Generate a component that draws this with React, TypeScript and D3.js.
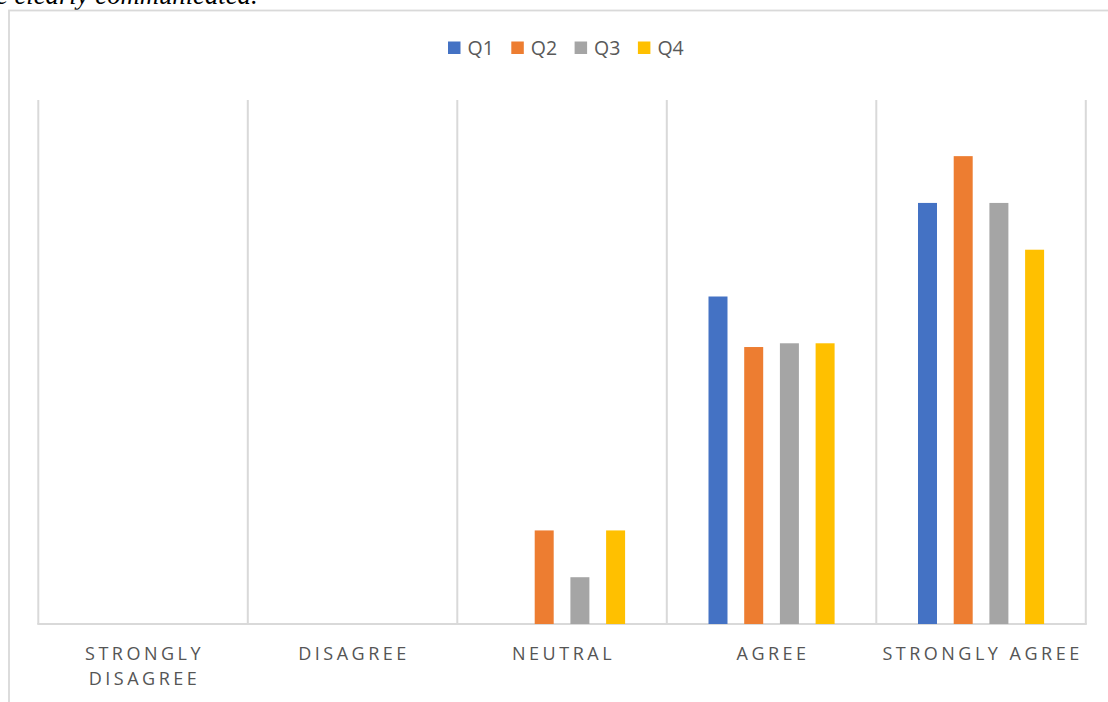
import React from "react";
import * as d3 from "d3";

const categories = ["STRONGLY DISAGREE", "DISAGREE", "NEUTRAL", "AGREE", "STRONGLY AGREE"];
const categoryLines = [["STRONGLY", "DISAGREE"], ["DISAGREE"], ["NEUTRAL"], ["AGREE"], ["STRONGLY AGREE"]];
const seriesNames = ["Q1", "Q2", "Q3", "Q4"];
const seriesColors = ["#4472C4", "#ED7D31", "#A5A5A5", "#FFC000"];
const q1 = [0, 0, 0, 43.75, 56.25];
const q2 = [0, 0, 12.5, 37, 62.5];
const q3 = [0, 0, 6.25, 37.5, 56.25];
const q4 = [0, 0, 12.5, 37.5, 50];
const seriesValues = [q1, q2, q3, q4];
const yMax = 70;

export default function App() {
  const W = 1108, H = 702;
  const left = 38.3, right = 1085.8, top = 100, bottom = 624;
  const x0 = d3.scaleBand<string>().domain(categories).range([left, right]).padding(0);
  const groupW = 126.1;
  const x1 = d3.scaleBand<string>().domain(seriesNames).range([0, groupW]).paddingInner(0.468).paddingOuter(0);
  const y = d3.scaleLinear().domain([0, yMax]).range([bottom, top]);
  const grid = "#d9d9d9";
  const font = "'Open Sans', 'Noto Sans', sans-serif";

  const gridXs = categories.map((c) => x0(c)!).concat([right]);

  return (
    <div style={{ position: "absolute", left: 0, top: 0, width: W, height: H, overflow: "hidden", background: "#fff" }}>
      <svg width={W} height={H} style={{ display: "block" }}>
        <text x={-4} y={4} fontFamily="'Liberation Serif', 'Times New Roman', serif" fontStyle="italic" fontSize={26.7} fill="#000">
          e clearly communicated.
        </text>
        <rect x={9} y={10.5} width={1200} height={800} fill="none" stroke={grid} strokeWidth={1.8} />
        {gridXs.map((gx, i) => (
          <line key={i} x1={gx} x2={gx} y1={top} y2={bottom} stroke={grid} strokeWidth={2} />
        ))}
        <line x1={left - 1} x2={right + 1} y1={bottom} y2={bottom} stroke={grid} strokeWidth={2} />
        {seriesNames.map((s, si) => (
          <g key={s}>
            {categories.map((c, ci) => {
              const v = seriesValues[si][ci];
              if (v <= 0) return null;
              const bx = x0(c)! + (x0.bandwidth() - groupW) / 2 + x1(s)!;
              return <rect key={c} x={bx} y={y(v)} width={x1.bandwidth()} height={bottom - y(v)} fill={seriesColors[si]} />;
            })}
          </g>
        ))}
        {categories.map((c, ci) => (
          <text key={c} textAnchor="middle" fontFamily={font} fontSize={18} fill="#555555" style={{ letterSpacing: "3.5px" }}>
            {categoryLines[ci].map((ln, li) => (
              <tspan key={li} x={x0(c)! + x0.bandwidth() / 2 + 1.5} y={660 + li * 25}>{ln}</tspan>
            ))}
          </text>
        ))}
        {seriesNames.map((s, si) => (
          <g key={s} transform={`translate(${448 + si * 63.3},0)`}>
            <rect x={0} y={41.5} width={12.5} height={12.5} fill={seriesColors[si]} />
            <text x={19.5} y={55} fontFamily={font} fontSize={19.5} fill="#595959">{s}</text>
          </g>
        ))}
      </svg>
    </div>
  );
}
